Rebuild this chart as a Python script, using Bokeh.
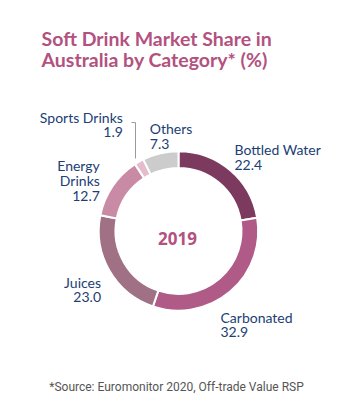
import math
from bokeh.plotting import figure
from bokeh.models import ColumnDataSource, Range1d
from bokeh.core.properties import value
from bokeh.embed import file_html
from bokeh.resources import INLINE

categories = ["Bottled Water", "Carbonated", "Juices", "Energy Drinks", "Sports Drinks", "Others"]
shares = [22.4, 32.9, 23.0, 12.7, 1.9, 7.3]
colors = ["#7B3A5E", "#B05A87", "#A07085", "#C98AA5", "#E4BCCB", "#CCCCCC"]
label_lines = [["Bottled Water", "22.4"], ["Carbonated", "32.9"], ["Juices", "23.0"],
               ["Energy", "Drinks", "12.7"], ["Sports Drinks", "1.9"], ["Others", "7.3"]]
title_lines = ["Soft Drink Market Share in", "Australia by Category* (%)"]
year = "2019"
source_note = "*Source: Euromonitor 2020, Off-trade Value RSP"

W, H = 350, 399
def Y(y):
    return H - y

p = figure(width=W, height=H, output_backend="svg", toolbar_location=None,
           x_range=Range1d(0, W), y_range=Range1d(0, H), min_border=0)
p.axis.visible = False
p.grid.visible = False
p.outline_line_color = None
p.background_fill_color = "white"
p.border_fill_color = "white"

cx, cy = 178, 230.4
total = sum(shares)
starts, ends = [], []
acc = 0.0
for s in shares:
    starts.append(math.pi / 2 - 2 * math.pi * acc / total)
    acc += s
    ends.append(math.pi / 2 - 2 * math.pi * acc / total)

src = ColumnDataSource(dict(x=[cx] * len(shares), y=[Y(cy)] * len(shares),
                            start=starts, end=ends, color=colors))
p.annular_wedge(x="x", y="y", inner_radius=63, outer_radius=79.7,
                start_angle="start", end_angle="end", direction="clock",
                fill_color="color", line_color="white", line_width=2, source=src)

# labels: (anchor x, first baseline y, align)
label_pos = [(234, 149.3, "left"), (220, 316.7, "left"), (100.5, 281.7, "right"),
             (99.3, 165, "right"), (122.3, 116.7, "right"), (149.3, 128.3, "left")]
line_gap = 15
lx, ly, lt, la = [], [], [], []
for lines, (x0, y0, al) in zip(label_lines, label_pos):
    for i, t in enumerate(lines):
        lx.append(x0); ly.append(Y(y0 + i * line_gap)); lt.append(t); la.append(al)
lsrc = ColumnDataSource(dict(x=lx, y=ly, text=lt, align=la))
p.text(x="x", y="y", text="text", text_align="align", text_baseline="alphabetic",
       text_font=value("Lato"), text_font_size="14px", text_color="#203E74", source=lsrc)

# leader line for Sports Drinks
p.line(x=[131, 135, 135], y=[Y(122), Y(122), Y(158)], line_color="#9A9A9A", line_width=1)

# title
p.text(x=[41, 41], y=[Y(37.5), Y(59)], text=title_lines, text_baseline="alphabetic",
       text_font=value("Lato"), text_font_style="bold", text_font_size="19.5px",
       text_color="#B3517F")

# center year
p.text(x=[cx - 1], y=[Y(237.7)], text=[year], text_align="center", text_baseline="alphabetic",
       text_font=value("Open Sans"), text_font_style="bold", text_font_size="17px",
       text_color="#B3517F")

# source note
p.text(x=[176], y=[Y(386.7)], text=[source_note], text_align="center", text_baseline="alphabetic",
       text_font=value("Roboto"), text_font_size="12px", text_color="#555555")

open("out.html", "w").write(file_html(p, INLINE))
